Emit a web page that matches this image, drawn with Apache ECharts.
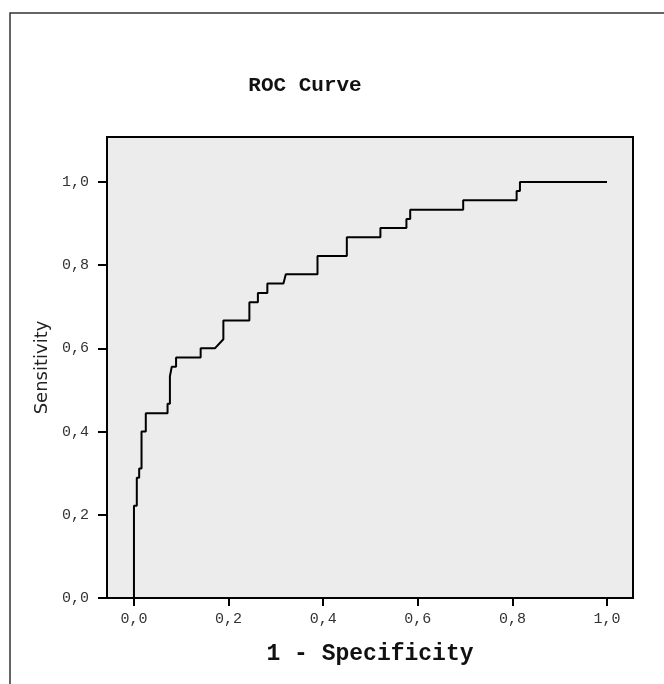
<!DOCTYPE html>
<html>
<head>
<meta charset="utf-8">
<script src="https://cdn.jsdelivr.net/npm/echarts@6/dist/echarts.min.js"></script>
<style>
  html, body { margin: 0; padding: 0; background: #fff; }
  #chart { width: 664px; height: 684px; }
</style>
</head>
<body>
<div id="chart"></div>
<script>
// corner points of the ROC staircase: 1 - specificity / sensitivity
var fpr = [0, 0, 0.006, 0.006, 0.011, 0.011, 0.016, 0.016, 0.025, 0.025,
  0.071, 0.071, 0.076, 0.076, 0.080, 0.080, 0.089, 0.089, 0.141, 0.141,
  0.171, 0.189, 0.189, 0.244, 0.244, 0.262, 0.262, 0.282, 0.282, 0.316,
  0.321, 0.388, 0.388, 0.450, 0.450, 0.521, 0.521, 0.576, 0.576, 0.584,
  0.584, 0.696, 0.696, 0.809, 0.809, 0.816, 0.816, 1.0];
var tpr = [0, 0.222, 0.222, 0.289, 0.289, 0.311, 0.311, 0.400, 0.400, 0.444,
  0.444, 0.467, 0.467, 0.533, 0.533, 0.556, 0.556, 0.578, 0.578, 0.600,
  0.600, 0.622, 0.667, 0.667, 0.711, 0.711, 0.733, 0.733, 0.756, 0.756,
  0.778, 0.778, 0.822, 0.822, 0.867, 0.867, 0.889, 0.889, 0.911, 0.911,
  0.933, 0.933, 0.956, 0.956, 0.978, 0.978, 1.0, 1.0];
var tickValues = [0, 0.2, 0.4, 0.6, 0.8, 1.0];

var chart = echarts.init(document.getElementById('chart'));
var mono = '"Liberation Mono", "DejaVu Sans Mono", monospace';
var fmt = function (v) { return v.toFixed(1).replace('.', ','); };

var option = {
  animation: false,
  backgroundColor: '#fff',
  graphic: [
    {
      type: 'rect',
      shape: { x: 10, y: 13, width: 700, height: 700 },
      style: { fill: 'none', stroke: '#333', lineWidth: 1.5 },
      z: -1
    },
    {
      type: 'text',
      x: 305, y: 75,
      style: {
        text: 'ROC Curve',
        fill: '#111',
        font: 'bold 21px ' + mono,
        textAlign: 'center'
      }
    }
  ],
  grid: {
    left: 107, top: 137, width: 526, height: 461,
    show: true,
    backgroundColor: '#ececec',
    borderColor: '#000',
    borderWidth: 2
  },
  xAxis: {
    type: 'value',
    min: -0.057,
    max: 1.055,
    splitLine: { show: false },
    axisLine: { show: true, onZero: false, lineStyle: { color: '#000', width: 2 } },
    axisTick: { show: true, customValues: tickValues, length: 8, lineStyle: { color: '#000', width: 2 } },
    axisLabel: {
      customValues: tickValues, formatter: fmt, margin: 14,
      fontFamily: mono, fontSize: 15, color: '#333'
    },
    name: '1 - Specificity',
    nameLocation: 'middle',
    nameGap: 45,
    nameTextStyle: { fontFamily: mono, fontWeight: 'bold', fontSize: 23, color: '#111' }
  },
  yAxis: {
    type: 'value',
    min: 0,
    max: 1.108,
    splitLine: { show: false },
    axisLine: { show: true, onZero: false, lineStyle: { color: '#000', width: 2 } },
    axisTick: { show: true, customValues: tickValues, length: 9, lineStyle: { color: '#000', width: 2 } },
    axisLabel: {
      customValues: tickValues, formatter: fmt, margin: 18,
      fontFamily: mono, fontSize: 15, color: '#333'
    },
    name: 'Sensitivity',
    nameLocation: 'middle',
    nameGap: 53,
    nameTextStyle: { fontFamily: '"DejaVu Sans", sans-serif', fontSize: 18, color: '#222' }
  },
  series: [{
    type: 'line',
    data: fpr.map(function (x, i) { return [x, tpr[i]]; }),
    showSymbol: false,
    lineStyle: { color: '#000', width: 2 }
  }]
};
chart.setOption(option);
</script>
</body>
</html>
